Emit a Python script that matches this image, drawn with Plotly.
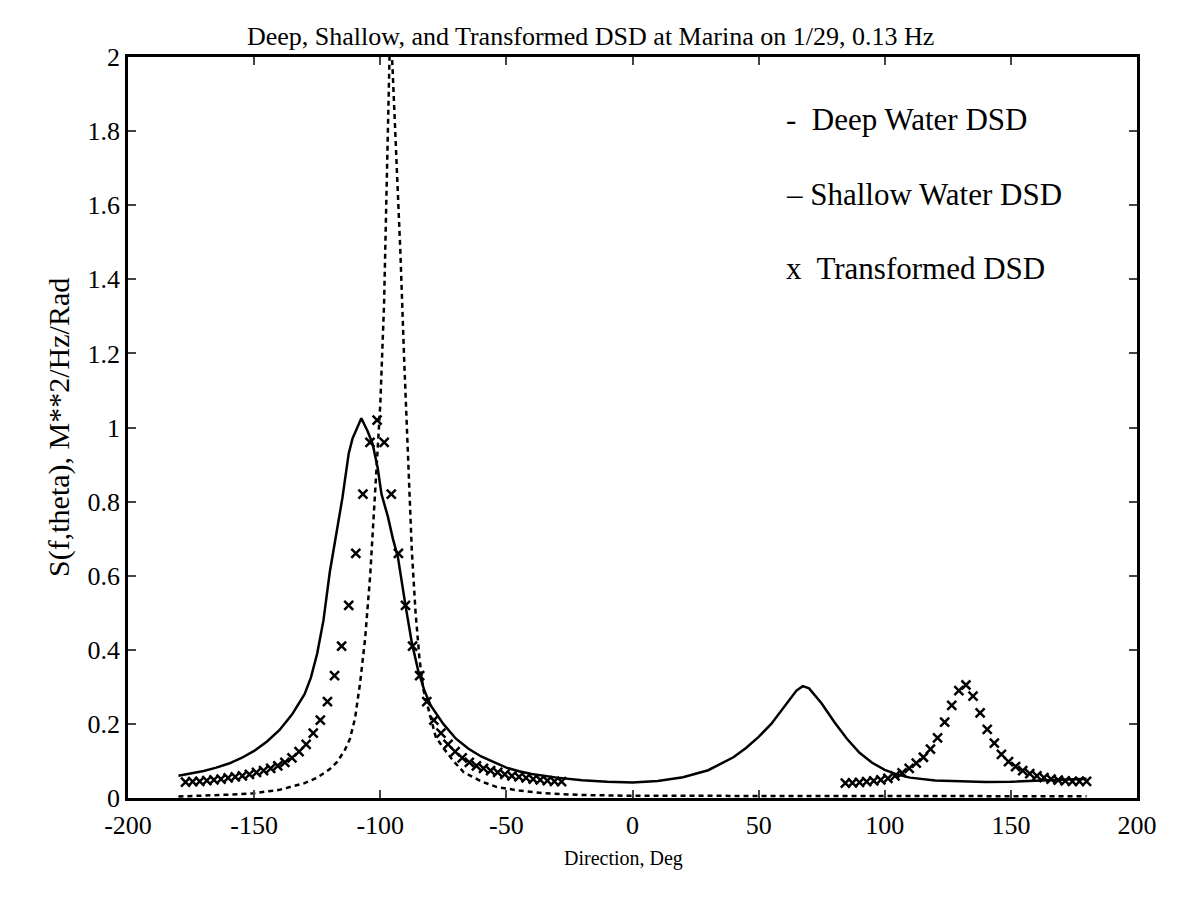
import numpy as np
import plotly.graph_objects as go

# direction bins of the transformed DSD (360/128 deg apart)
bins = np.linspace(-180, 180, 129)

# deep water DSD (solid line)
deep_dir = [-180, -175, -170, -165, -160, -155, -150, -145, -140, -135,
            -130, -127.5, -125, -122.5, -120, -117.5, -115, -112.5, -111, -107.5,
            -105, -103, -101, -99.5, -97, -95, -93, -90, -87.5, -85,
            -82.5, -80, -77.5, -75, -70, -65, -60, -55, -50, -45,
            -40, -30, -20, -10, 0, 10, 20, 30, 40, 45,
            50, 55, 60, 65, 67.5, 70, 75, 80, 85, 90,
            95, 100, 105, 110, 120, 130, 140, 150, 160, 170, 180]
deep_s = [0.060, 0.066, 0.073, 0.082, 0.093, 0.108, 0.127, 0.152, 0.183, 0.225,
          0.28, 0.325, 0.39, 0.48, 0.61, 0.71, 0.81, 0.93, 0.97, 1.025,
          0.99, 0.955, 0.89, 0.82, 0.76, 0.70, 0.65, 0.52, 0.42, 0.345,
          0.29, 0.25, 0.225, 0.20, 0.16, 0.133, 0.112, 0.096, 0.082, 0.072,
          0.065, 0.055, 0.048, 0.044, 0.042, 0.046, 0.056, 0.075, 0.11, 0.135,
          0.165, 0.20, 0.245, 0.29, 0.302, 0.296, 0.255, 0.205, 0.16, 0.122,
          0.095, 0.076, 0.063, 0.055, 0.047, 0.044, 0.043, 0.044, 0.047, 0.051, 0.052]

# shallow water DSD (dashed line, peak runs off the top)
shallow_dir = [-180, -170, -160, -150, -140, -130, -125, -120, -117, -114,
               -112, -110, -108, -106, -104, -102, -100, -98.5, -97, -96,
               -95, -93.5, -92, -90.5, -89, -87.5, -86, -84.5, -83, -81,
               -78, -75, -71, -67, -60, -54, -45, -35, -20, 0,
               50, 100, 150, 180]
shallow_s = [0.004, 0.006, 0.009, 0.013, 0.022, 0.04, 0.055, 0.078, 0.098, 0.13,
             0.16, 0.215, 0.31, 0.43, 0.60, 0.83, 1.06, 1.33, 1.78, 2.1,
             1.95, 1.72, 1.47, 1.18, 0.92, 0.67, 0.50, 0.38, 0.295, 0.245,
             0.165, 0.135, 0.10, 0.07, 0.045, 0.03, 0.02, 0.013, 0.008, 0.006,
             0.005, 0.005, 0.005, 0.005]

# transformed DSD (x markers), bins 1..54 and 94..128
trans_left = [0.043, 0.044, 0.045, 0.047, 0.049, 0.051, 0.054, 0.057, 0.060, 0.064,
              0.069, 0.074, 0.080, 0.087, 0.096, 0.108, 0.125, 0.145, 0.175, 0.21,
              0.26, 0.33, 0.41, 0.52, 0.66, 0.82, 0.96, 1.02, 0.96, 0.82,
              0.66, 0.52, 0.41, 0.33, 0.26, 0.21, 0.175, 0.145, 0.125, 0.108,
              0.096, 0.087, 0.080, 0.074, 0.069, 0.064, 0.060, 0.057, 0.054, 0.051,
              0.049, 0.047, 0.045, 0.044]
trans_right = [0.040, 0.041, 0.042, 0.044, 0.046, 0.049, 0.053, 0.060, 0.068, 0.080,
               0.094, 0.110, 0.132, 0.162, 0.205, 0.25, 0.29, 0.305, 0.275, 0.23,
               0.185, 0.148, 0.118, 0.098, 0.085, 0.074, 0.066, 0.060, 0.055, 0.051,
               0.048, 0.046, 0.045, 0.045, 0.045]

x_ticks = [-200, -150, -100, -50, 0, 50, 100, 150, 200]
x_tick_labels = ["-200", "-150", "-100", "-50", "0", "50", "100", "150", "200"]
y_ticks = [0, 0.2, 0.4, 0.6, 0.8, 1, 1.2, 1.4, 1.6, 1.8, 2]
y_tick_labels = ["0", "0.2", "0.4", "0.6", "0.8", "1", "1.2", "1.4", "1.6", "1.8", "2"]

legend_rows = ["-  Deep Water DSD", "\u2013 Shallow Water DSD", "x  Transformed DSD"]
legend_y = [1.83, 1.63, 1.43]

trans_dir = list(bins[1:55]) + [None] + list(bins[94:129])
trans_s = trans_left + [None] + trans_right

FONT = "Liberation Serif, Times New Roman, serif"

data = [
    go.Scatter(x=deep_dir, y=deep_s, mode="lines",
               line=dict(color="black", width=2.5), name="Deep Water DSD"),
    go.Scatter(x=shallow_dir, y=shallow_s, mode="lines",
               line=dict(color="black", width=2.5, dash="5px,4px"),
               name="Shallow Water DSD"),
    go.Scatter(x=trans_dir, y=trans_s, mode="markers",
               marker=dict(symbol="x-thin", size=9, color="black",
                           line=dict(color="black", width=2.5)),
               name="Transformed DSD"),
]

annotations = [
    dict(text="Deep, Shallow, and Transformed DSD at Marina on 1/29, 0.13 Hz",
         xref="paper", yref="paper", x=0.458, y=1.027, showarrow=False,
         xanchor="center", yanchor="middle", font=dict(size=26)),
    dict(text="Direction, Deg", xref="paper", yref="paper", x=0.491, y=-0.081,
         showarrow=False, xanchor="center", yanchor="middle", font=dict(size=20)),
    dict(text="S(f,theta), M**2/Hz/Rad", xref="paper", yref="paper", x=-0.069, y=0.5,
         showarrow=False, textangle=-90, xanchor="center", yanchor="middle",
         font=dict(size=30)),
]
for row, yy in zip(legend_rows, legend_y):
    annotations.append(dict(text=row, x=60, y=yy, xref="x", yref="y",
                            showarrow=False, xanchor="left", yanchor="middle",
                            font=dict(size=31)))

# page body has an 8px margin, so keep the figure inside the window
layout = go.Layout(
    width=1161, height=892,
    margin=dict(l=120, r=20, t=49, b=102),
    paper_bgcolor="white", plot_bgcolor="white",
    font=dict(family=FONT, color="black", size=26),
    showlegend=False,
    xaxis=dict(range=[-200, 200], tickvals=x_ticks, ticktext=x_tick_labels,
               ticks="inside", ticklen=8, tickwidth=2, mirror="ticks",
               showline=True, linecolor="black", linewidth=2.5,
               showgrid=False, zeroline=False, ticklabelstandoff=2),
    yaxis=dict(range=[0, 2], tickvals=y_ticks, ticktext=y_tick_labels,
               ticks="inside", ticklen=8, tickwidth=2, mirror="ticks",
               showline=True, linecolor="black", linewidth=2.5,
               showgrid=False, zeroline=False),
    annotations=annotations,
)

fig = go.Figure(data=data, layout=layout)
fig.write_html("out.html")
